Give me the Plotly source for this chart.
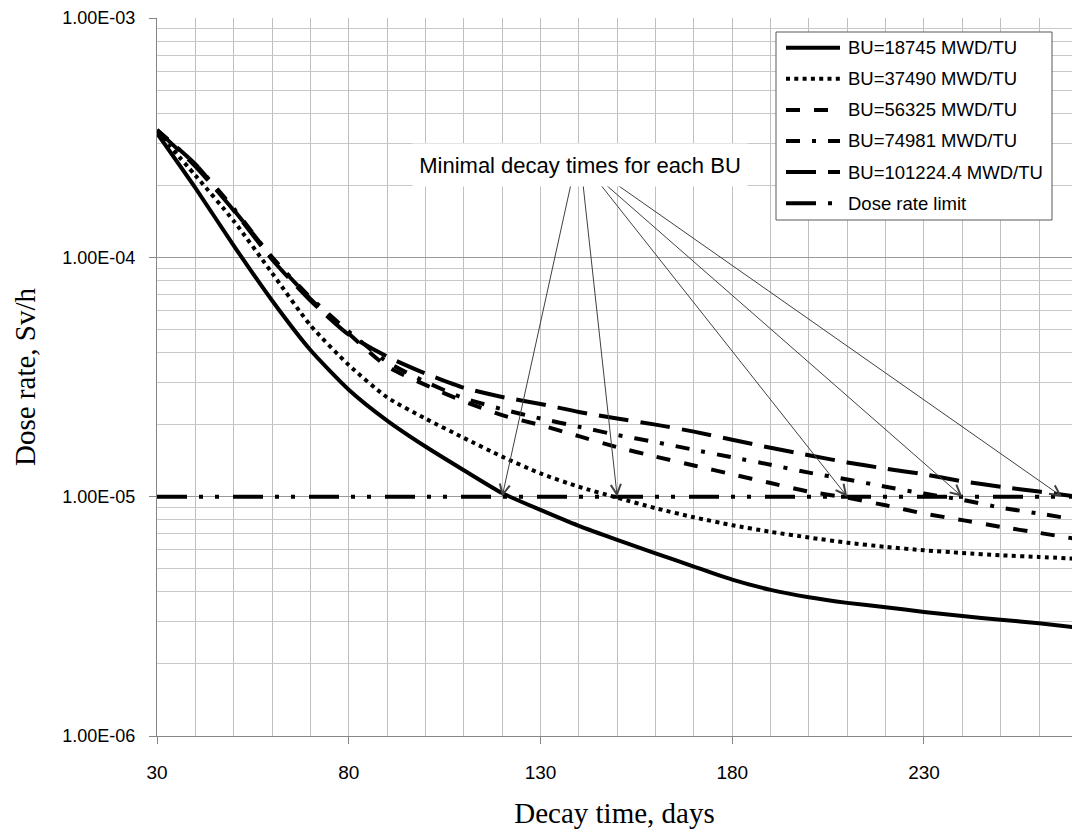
import plotly.graph_objects as go

# ---------------- data ----------------
days = [30, 40, 50, 60, 70, 80, 90, 100, 110, 120, 130, 140, 150, 160, 170,
        180, 190, 200, 210, 220, 230, 240, 250, 260, 270]

bu_18745 = [3.30e-4, 1.95e-4, 1.12e-4, 6.6e-5, 4.1e-5, 2.8e-5, 2.08e-5, 1.62e-5, 1.29e-5, 1.035e-5,
            8.8e-6, 7.55e-6, 6.6e-6, 5.8e-6, 5.1e-6, 4.5e-6, 4.08e-6, 3.8e-6, 3.6e-6, 3.45e-6,
            3.3e-6, 3.17e-6, 3.06e-6, 2.96e-6, 2.84e-6]
bu_37490 = [3.35e-4, 2.2e-4, 1.42e-4, 8.6e-5, 5.2e-5, 3.55e-5, 2.6e-5, 2.12e-5, 1.76e-5, 1.47e-5,
            1.25e-5, 1.10e-5, 9.9e-6, 8.95e-6, 8.2e-6, 7.6e-6, 7.13e-6, 6.75e-6, 6.42e-6, 6.17e-6,
            5.97e-6, 5.82e-6, 5.69e-6, 5.6e-6, 5.5e-6]
bu_56325 = [3.4e-4, 2.45e-4, 1.58e-4, 1.0e-4, 6.7e-5, 4.8e-5, 3.5e-5, 2.93e-5, 2.5e-5, 2.19e-5,
            1.99e-5, 1.79e-5, 1.61e-5, 1.47e-5, 1.35e-5, 1.24e-5, 1.14e-5, 1.05e-5, 9.9e-6, 9.2e-6,
            8.5e-6, 7.98e-6, 7.48e-6, 7.06e-6, 6.65e-6]
bu_74981 = [3.4e-4, 2.45e-4, 1.6e-4, 1.0e-4, 6.8e-5, 4.9e-5, 3.66e-5, 3.02e-5, 2.58e-5, 2.32e-5,
            2.12e-5, 1.96e-5, 1.81e-5, 1.69e-5, 1.57e-5, 1.46e-5, 1.36e-5, 1.26e-5, 1.18e-5, 1.10e-5,
            1.03e-5, 9.7e-6, 9.0e-6, 8.5e-6, 8.0e-6]
bu_101224 = [3.4e-4, 2.4e-4, 1.57e-4, 9.8e-5, 6.6e-5, 4.75e-5, 3.85e-5, 3.27e-5, 2.85e-5, 2.61e-5,
             2.44e-5, 2.26e-5, 2.12e-5, 2.0e-5, 1.87e-5, 1.73e-5, 1.6e-5, 1.49e-5, 1.39e-5, 1.31e-5,
             1.24e-5, 1.16e-5, 1.10e-5, 1.05e-5, 1.0e-5]
dose_rate_limit = 1.0e-5

series_names = ["BU=18745 MWD/TU", "BU=37490 MWD/TU", "BU=56325 MWD/TU",
                "BU=74981 MWD/TU", "BU=101224.4 MWD/TU", "Dose rate limit"]

min_decay_times = [120, 150, 210, 240, 266]
annotation_text = "Minimal decay times for each BU"

x_tick_vals = [30, 80, 130, 180, 230]
x_minor_vals = [40, 50, 60, 70, 90, 100, 110, 120, 140, 150, 160, 170, 190, 200,
                210, 220, 240, 250, 260]
y_tick_vals = [1e-6, 1e-5, 1e-4, 1e-3]
y_tick_text = ["1.00E-06", "1.00E-05", "1.00E-04", "1.00E-03"]
y_minor_vals = [k * 10.0 ** e for e in (-6, -5, -4) for k in range(2, 10)]

x_title = "Decay time, days"
y_title = "Dose rate, Sv/h"

# ---------------- styles ----------------
dashes = ["solid", "4px,4.3px", "14px,14px", "14px,12px,4px,12px", "30px,12px",
          "30px,12px,4px,12px,4px,14px"]

W, H = 1072, 835
PL, PT, PR, PB = 157, 18, 1072, 736
X_MAX = 268.6
SANS = "Liberation Sans"
SERIF = "Liberation Serif"


def px_x(px):
    return (px - PL) / (PR - PL)


def px_y(py):
    return (PB - py) / (PB - PT)


def day_of(px):
    return 30 + (px - PL) / (PR - PL) * (X_MAX - 30)


def log_of(py):
    return -3 - (py - PT) / (PB - PT) * 3


fig = go.Figure()

all_series = [bu_18745, bu_37490, bu_56325, bu_74981, bu_101224]
for vals, name, dash in zip(all_series, series_names[:5], dashes[:5]):
    fig.add_trace(go.Scatter(
        x=days, y=vals, name=name, mode="lines", showlegend=False,
        line=dict(color="black", width=4, dash=dash, shape="spline", smoothing=0.6),
    ))

fig.add_trace(go.Scatter(
    x=days, y=[dose_rate_limit] * len(days), name=series_names[5], mode="lines",
    showlegend=False, line=dict(color="black", width=4, dash=dashes[5]),
))

shapes = []
annotations = []

# arrows from the note to the minimal decay times
arrow_starts_px = [571, 583, 600, 605, 616]
for t, sx in zip(min_decay_times, arrow_starts_px):
    annotations.append(dict(
        x=t, y=-5, xref="x", yref="y", ax=day_of(sx), ay=log_of(184),
        axref="x", ayref="y", text="", showarrow=True, arrowhead=5,
        arrowsize=2, arrowwidth=1, arrowcolor="#404040", standoff=0,
    ))

annotations.append(dict(
    x=px_x(580), y=px_y(165), xref="paper", yref="paper", text=annotation_text,
    showarrow=False, bgcolor="white", width=334, height=42, borderpad=0,
    font=dict(family=SANS, size=22, color="black"), xanchor="center", yanchor="middle",
))

# legend box
shapes.append(dict(type="rect", xref="paper", yref="paper",
                   x0=px_x(776), x1=px_x(1052), y0=px_y(220), y1=px_y(32),
                   line=dict(color="#595959", width=1), fillcolor="white", layer="above"))
for i, (name, dash) in enumerate(zip(series_names, dashes)):
    ry = 47.7 + 31.1 * i
    shapes.append(dict(type="line", xref="paper", yref="paper",
                       x0=px_x(786), x1=px_x(840), y0=px_y(ry), y1=px_y(ry),
                       line=dict(color="black", width=4, dash=dash), layer="above"))
    annotations.append(dict(
        x=px_x(846), y=px_y(ry), xref="paper", yref="paper", text=name,
        showarrow=False, xanchor="left", yanchor="middle",
        font=dict(family=SANS, size=18.5, color="black"),
    ))

fig.update_layout(
    width=W, height=H,
    margin=dict(l=PL, r=W - PR, t=PT, b=H - PB),
    paper_bgcolor="white", plot_bgcolor="white",
    shapes=shapes, annotations=annotations,
    showlegend=False,
)

fig.update_xaxes(
    range=[30, X_MAX], tickvals=x_tick_vals, ticks="outside", ticklen=7,
    tickcolor="#868686", showline=True, linecolor="#868686", linewidth=1,
    showgrid=True, gridcolor="#bfbfbf", gridwidth=1, zeroline=False,
    minor=dict(tickvals=x_minor_vals, showgrid=True, gridcolor="#bfbfbf", ticks=""),
    tickfont=dict(family=SANS, size=19, color="black"), ticklabelstandoff=12,
    title=dict(text=x_title, font=dict(family=SERIF, size=29, color="black"), standoff=20),
)

fig.update_yaxes(
    type="log", range=[-6, -3], tickvals=y_tick_vals, ticktext=y_tick_text,
    ticks="outside", ticklen=7, tickcolor="#868686", showline=True,
    linecolor="#868686", linewidth=1, showgrid=True, gridcolor="#9a9a9a",
    zeroline=False,
    minor=dict(tickvals=y_minor_vals, showgrid=True, gridcolor="#c8c8c8", ticks=""),
    tickfont=dict(family=SANS, size=18, color="black"), ticklabelstandoff=10,
    title=dict(text=y_title, font=dict(family=SERIF, size=29, color="black"), standoff=18),
)

fig.write_html("out.html")
